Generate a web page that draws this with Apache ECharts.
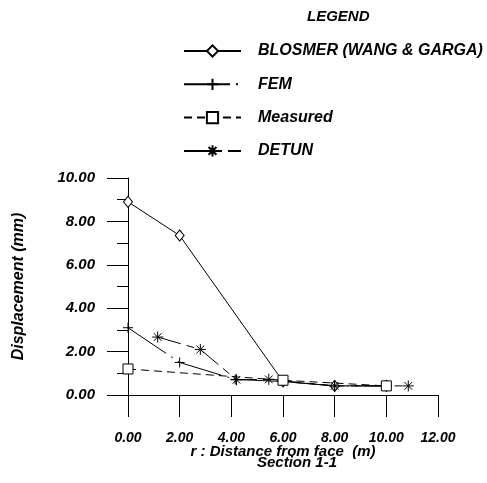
<!DOCTYPE html>
<html>
<head>
<meta charset="utf-8">
<script src="https://cdn.jsdelivr.net/npm/echarts@6/dist/echarts.min.js"></script>
<style>
  html, body { margin: 0; padding: 0; background: #fff; }
  #chart { width: 487px; height: 483px; }
</style>
</head>
<body>
<div id="chart"></div>
<script>
  // values (r in m, displacement in mm)
  var blosmer = [[0, 8.9], [2, 7.35], [6, 0.62], [8, 0.42], [10, 0.42]]
  var fem = [[0, 3.1], [2, 1.5], [4.15, 0.72], [6, 0.62], [8, 0.42], [10, 0.42]]
  var measured = [[0, 1.2], [6, 0.68], [10, 0.42]]
  var detun = [[1.15, 2.67], [2.8, 2.1], [4.2, 0.7], [5.45, 0.72], [8, 0.42], [10.85, 0.42]]
  var seriesNames = ['BLOSMER (WANG & GARGA)', 'FEM', 'Measured', 'DETUN']

  var FONT = '"Liberation Sans", Arial, sans-serif'
  var plus = 'path://M0,5L10,5M5,0L5,10'
  var star = 'path://M0,5L10,5M5,0L5,10M1.5,1.5L8.5,8.5M1.5,8.5L8.5,1.5'

  function lineSeries(name, data, symbol, size, dash) {
    return {
      name: name,
      type: 'line',
      data: data,
      symbol: symbol,
      symbolSize: size,
      showAllSymbol: true,
      animation: false,
      itemStyle: { color: '#fff', borderColor: '#000', borderWidth: 1 },
      lineStyle: { color: '#000', width: 1, type: dash }
    }
  }

  var chart = echarts.init(document.getElementById('chart'))
  chart.setOption({
    backgroundColor: '#fff',
    textStyle: { fontFamily: FONT },
    title: {
      text: 'LEGEND',
      left: 302,
      top: 4,
      textStyle: { fontSize: 15, fontWeight: 'bold', fontStyle: 'italic', color: '#000', fontFamily: FONT }
    },
    legend: {
      orient: 'vertical',
      left: 183,
      top: 43,
      padding: 0,
      itemWidth: 57,
      itemHeight: 14,
      itemGap: 17.3,
      data: seriesNames,
      textStyle: {
        fontSize: 16, fontWeight: 'bold', fontStyle: 'italic', color: '#000', fontFamily: FONT,
        padding: [0, 0, 0, 12]
      }
    },
    grid: { left: 128, right: 49, top: 178, bottom: 88 },
    xAxis: {
      type: 'value',
      min: 0,
      max: 12,
      interval: 2,
      name: 'r : Distance from face  (m)',
      nameLocation: 'middle',
      nameGap: 49,
      nameMoveOverlap: false,
      nameTextStyle: { fontSize: 15, fontWeight: 'bold', fontStyle: 'italic', color: '#000' },
      axisLine: { lineStyle: { color: '#000', width: 1 } },
      axisTick: { length: 22, lineStyle: { color: '#000' } },
      splitLine: { show: false },
      axisLabel: {
        margin: 36, fontSize: 14, fontWeight: 'bold', fontStyle: 'italic', color: '#000',
        formatter: function (v) { return v.toFixed(2) }
      }
    },
    yAxis: {
      type: 'value',
      min: 0,
      max: 10,
      interval: 2,
      name: 'Displacement (mm)',
      nameLocation: 'middle',
      nameGap: 101,
      nameMoveOverlap: false,
      nameTextStyle: { fontSize: 16, fontWeight: 'bold', fontStyle: 'italic', color: '#000' },
      axisLine: { show: true, lineStyle: { color: '#000', width: 1 } },
      axisTick: { length: 21, lineStyle: { color: '#000' } },
      minorTick: { show: true, splitNumber: 2, length: 11, lineStyle: { color: '#000' } },
      splitLine: { show: false },
      axisLabel: {
        margin: 33, fontSize: 15, fontWeight: 'bold', fontStyle: 'italic', color: '#000',
        formatter: function (v) { return v.toFixed(2) }
      }
    },
    graphic: [{
      type: 'text',
      left: 257,
      top: 455,
      style: { text: 'Section 1-1', font: 'italic bold 15px ' + FONT, fill: '#000' }
    }],
    series: [
      lineSeries(seriesNames[0], blosmer, 'diamond', [9, 11], 'solid'),
      lineSeries(seriesNames[1], fem, plus, 10, [46, 6, 2, 6]),
      lineSeries(seriesNames[2], measured, 'rect', 10, [8, 5]),
      lineSeries(seriesNames[3], detun, star, 11, [24, 6, 8, 6])
    ]
  })
</script>
</body>
</html>
